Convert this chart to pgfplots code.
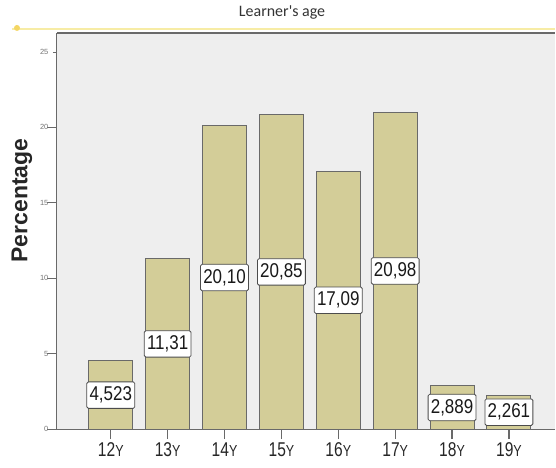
\documentclass[border=0pt]{standalone}
\usepackage{pgfplots}
\pgfplotsset{compat=1.18}
\usepackage{fontspec}
\setmainfont{Liberation Sans}
\newfontfamily\titlefont{Carlito}
\definecolor{barfill}{RGB}{211,205,152}
\definecolor{bggrey}{RGB}{238,238,238}
\definecolor{framegrey}{RGB}{105,105,105}
\definecolor{paleyellow}{RGB}{247,236,165}
\definecolor{dotyellow}{RGB}{244,214,100}
\newcommand{\yr}[1]{#1{\fontsize{16bp}{16bp}\selectfont Y}}
\begin{document}
\begin{tikzpicture}
\begin{axis}[
  name=ax,
  scale only axis,
  width=499bp, height=397bp,
  xmin=-0.947, xmax=7.81,
  ymin=0, ymax=26.26,
  axis x line*=bottom, axis y line*=left,
  axis line style={draw=framegrey, line width=1.2bp, -},
  axis background/.style={fill=bggrey},
  xtick={0,...,7},
  xticklabels={\yr{12},\yr{13},\yr{14},\yr{15},\yr{16},\yr{17},\yr{18},\yr{19}},
  ytick={0,5,...,25},
  tick align=outside,
  major tick length=10bp,
  xtick style={draw=framegrey, line width=1.2bp},
  ytick style={draw=framegrey, line width=0.8bp, shorten <=6bp},
  /pgf/number format/assume math mode=true,
  xticklabel style={font=\fontsize{20bp}{20bp}\selectfont, text=black!85, xscale=0.78},
  yticklabel style={font=\fontsize{7.5bp}{7.5bp}\selectfont, text=black!55, xshift=5bp},
  ylabel={Percentage},
  every axis y label/.style={at={(rel axis cs:-0.0701,0.577)}, rotate=90, anchor=center, font=\bfseries\fontsize{23bp}{23bp}\selectfont, text=black!85},
  title={Learner's age},
  title style={at={(rel axis cs:0.452,1)}, anchor=center, yshift=15bp, font=\titlefont\fontsize{16bp}{16bp}\selectfont, text=black!80},
  clip=false,
]
\addplot[ybar, bar width=44bp, fill=barfill, draw=framegrey, line width=1bp]
  coordinates {(0,4.523) (1,11.31) (2,20.10) (3,20.85) (4,17.09) (5,20.98) (6,2.889) (7,2.261)};
\addplot[draw=none, mark=none, nodes near coords, point meta=explicit symbolic,
  every node near coord/.style={anchor=center, fill=white, draw=black!70, line width=0.8bp,
    rounded corners=1.5bp, inner xsep=3.2bp, inner ysep=5bp, xscale=0.85,
    font=\fontsize{20bp}{20bp}\selectfont, text=black!90}]
  coordinates {(0,2.26)[4,523] (1,5.655)[11,31] (2,10.05)[20,10] (3,10.425)[20,85]
               (4,8.545)[17,09] (5,10.49)[20,98] (6,1.44)[2,889] (7,1.13)[2,261]};
\end{axis}
\draw[paleyellow, line width=2bp] ([xshift=-45bp,yshift=4bp]ax.north west) -- ([yshift=4bp]ax.north east);
\draw[framegrey, line width=1.2bp] (ax.north west) -- (ax.north east);
\fill[dotyellow] ([xshift=-40bp,yshift=5bp]ax.north west) circle (3bp);
\path ([xshift=-57bp,yshift=-38bp]ax.south west) rectangle ([yshift=33bp]ax.north east);
\end{tikzpicture}
\end{document}
